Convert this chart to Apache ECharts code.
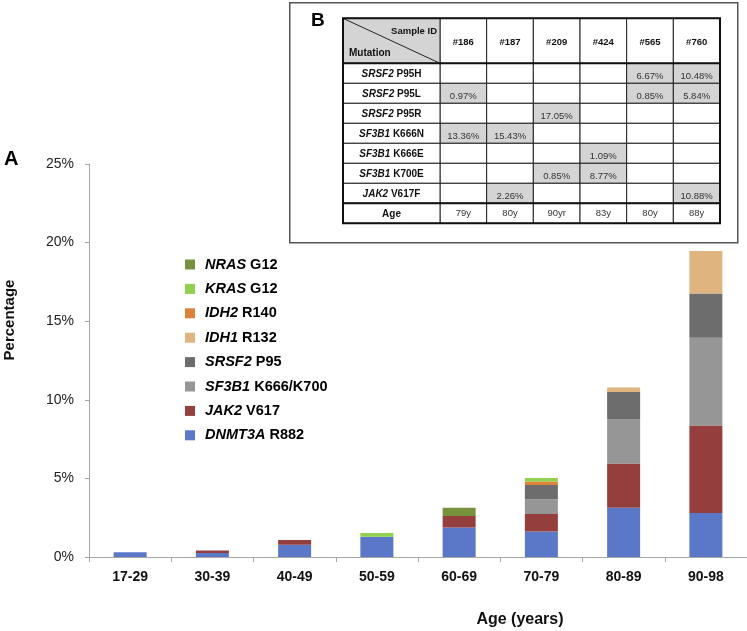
<!DOCTYPE html>
<html>
<head>
<meta charset="utf-8">
<script src="https://cdn.jsdelivr.net/npm/echarts@6/dist/echarts.min.js"></script>
<style>
html,body{margin:0;padding:0;background:#fff;}
#chart{width:747px;height:631px;}
</style>
</head>
<body>
<div id="chart"></div>
<script>
// ---------- Panel A data ----------
var ageGroups = ['17-29','30-39','40-49','50-59','60-69','70-79','80-89','90-98'];
var seriesNames = ['DNMT3A R882','JAK2 V617','SF3B1 K666/K700','SRSF2 P95','IDH1 R132','IDH2 R140','KRAS G12','NRAS G12'];
var dnmt3a = [0.30, 0.25, 0.78, 1.29, 1.87, 1.62, 3.14, 2.80];
var jak2   = [0,    0.17, 0.30, 0,    0.74, 1.12, 2.80, 5.56];
var sf3b1  = [0,    0,    0,    0,    0,    0.93, 2.80, 5.59];
var srsf2  = [0,    0,    0,    0,    0,    0.91, 1.76, 2.81];
var idh1   = [0,    0,    0,    0,    0,    0,    0.28, 2.71];
var idh2   = [0,    0,    0,    0,    0,    0.23, 0,    0];
var kras   = [0,    0,    0,    0.24, 0,    0.22, 0,    0];
var nras   = [0,    0,    0,    0,    0.53, 0,    0,    0];
var seriesValues = [dnmt3a, jak2, sf3b1, srsf2, idh1, idh2, kras, nras];
var seriesColors = ['#5B77C8','#943F3E','#969696','#6D6D6D','#E0B47E','#DB8339','#92D050','#76923C'];
var yTicks = [0, 5, 10, 15, 20, 25];

// ---------- Panel B data ----------
var sampleIds = ['#186','#187','#209','#424','#565','#760'];
var mutationRows = ['SRSF2 P95H','SRSF2 P95L','SRSF2 P95R','SF3B1 K666N','SF3B1 K666E','SF3B1 K700E','JAK2 V617F'];
var rowSRSF2_P95H = [null, null, null, null, '6.67%', '10.48%'];
var rowSRSF2_P95L = ['0.97%', null, null, null, '0.85%', '5.84%'];
var rowSRSF2_P95R = [null, null, '17.05%', null, null, null];
var rowSF3B1_K666N = ['13.36%', '15.43%', null, null, null, null];
var rowSF3B1_K666E = [null, null, null, '1.09%', null, null];
var rowSF3B1_K700E = [null, null, '0.85%', '8.77%', null, null];
var rowJAK2_V617F = [null, '2.26%', null, null, null, '10.88%'];
var ages = ['79y','80y','90yr','83y','80y','88y'];
var tableRows = [rowSRSF2_P95H, rowSRSF2_P95L, rowSRSF2_P95R, rowSF3B1_K666N, rowSF3B1_K666E, rowSF3B1_K700E, rowJAK2_V617F];

var FONT = '"Liberation Sans", Arial, sans-serif';

var chart = echarts.init(document.getElementById('chart'), null, {renderer: 'canvas'});

function geneLabel(name) {
  var i = name.indexOf(' ');
  return '{i|' + name.slice(0, i) + '} ' + name.slice(i + 1);
}

var barSeries = seriesNames.map(function (n, k) {
  return {
    name: n,
    type: 'bar',
    stack: 'total',
    xAxisIndex: 0, yAxisIndex: 0,
    barWidth: 33,
    itemStyle: {color: seriesColors[k]},
    data: seriesValues[k],
    silent: true
  };
});

// table cells
var tableCells = [];
var rowCats = mutationRows.concat(['Age']);
for (var r = 0; r < rowCats.length; r++) {
  for (var c = 0; c < sampleIds.length; c++) {
    tableCells.push([c, r]);
  }
}
function cellText(c, r) {
  if (r === mutationRows.length) return ages[c];
  return tableRows[r][c];
}

var LABEL_W = 97, HEADER_H = 45;
var tableSeries = {
  type: 'custom',
  xAxisIndex: 1, yAxisIndex: 1,
  clip: false,
  silent: true,
  data: tableCells,
  renderItem: function (params, api) {
    var c = api.value(0), r = api.value(1);
    var p = api.coord([c, r]);
    var sz = api.size([1, 1]);
    var w = sz[0], h = sz[1];
    var x0 = p[0] - w / 2, y0 = p[1] - h / 2;
    var txt = cellText(c, r);
    var isAge = r === mutationRows.length;
    var ch = [];
    ch.push({type: 'rect', shape: {x: x0, y: y0, width: w, height: h},
      style: {fill: (!isAge && txt) ? '#D4D4D4' : '#fff', stroke: '#222', lineWidth: 1}});
    if (txt) {
      ch.push({type: 'text', style: {x: x0 + w / 2, y: isAge ? y0 + h / 2 : y0 + h / 2 + 3.5, text: txt,
        align: 'center', verticalAlign: 'middle', font: '9.5px ' + FONT, fill: '#333'}});
    }
    if (c === 0) {
      ch.push({type: 'rect', shape: {x: x0 - LABEL_W, y: y0, width: LABEL_W, height: h},
        style: {fill: '#fff', stroke: '#222', lineWidth: 1}});
      var lab = rowCats[r];
      ch.push({type: 'text', style: {x: x0 - LABEL_W / 2, y: y0 + h / 2 + 1,
        text: isAge ? 'Age' : geneLabel(lab), align: 'center', verticalAlign: 'middle',
        font: 'bold 10px ' + FONT, fill: '#111',
        rich: {i: {fontStyle: 'italic', fontWeight: 'bold', fontSize: 10, fontFamily: FONT, fill: '#111'}}}});
    }
    if (r === 0) {
      ch.push({type: 'rect', shape: {x: x0, y: y0 - HEADER_H, width: w, height: HEADER_H},
        style: {fill: '#fff', stroke: '#222', lineWidth: 1}});
      ch.push({type: 'text', style: {x: x0 + w / 2, y: y0 - HEADER_H / 2 + 2, text: sampleIds[c],
        align: 'center', verticalAlign: 'middle', font: 'bold 9.5px ' + FONT, fill: '#111'}});
    }
    if (c === 0 && r === 0) {
      var cx = x0 - LABEL_W, cy = y0 - HEADER_H;
      ch.push({type: 'rect', shape: {x: cx, y: cy, width: LABEL_W, height: HEADER_H},
        style: {fill: '#D4D4D4', stroke: '#222', lineWidth: 1}});
      ch.push({type: 'line', shape: {x1: cx, y1: cy, x2: x0, y2: y0}, style: {stroke: '#222', lineWidth: 1}});
      ch.push({type: 'text', style: {x: x0 - 3, y: cy + 13, text: 'Sample ID', align: 'right',
        verticalAlign: 'middle', font: 'bold 9.5px ' + FONT, fill: '#111'}});
      ch.push({type: 'text', style: {x: cx + 6, y: cy + 35, text: 'Mutation', align: 'left',
        verticalAlign: 'middle', font: 'bold 10px ' + FONT, fill: '#111'}});
      // thick outer frame & separators
      var totW = LABEL_W + w * sampleIds.length, totH = HEADER_H + h * rowCats.length;
      ch.push({type: 'rect', shape: {x: cx, y: cy, width: totW, height: totH},
        style: {fill: null, stroke: '#111', lineWidth: 2}, z2: 10});
      ch.push({type: 'line', shape: {x1: cx, y1: y0, x2: cx + totW, y2: y0},
        style: {stroke: '#111', lineWidth: 2}, z2: 10});
      ch.push({type: 'line', shape: {x1: cx, y1: y0 + h * mutationRows.length, x2: cx + totW, y2: y0 + h * mutationRows.length},
        style: {stroke: '#111', lineWidth: 2}, z2: 10});
    }
    return {type: 'group', children: ch};
  }
};

var option = {
  animation: false,
  backgroundColor: '#fff',
  textStyle: {fontFamily: FONT},
  grid: [
    {left: 89, right: 0, top: 164, bottom: 74},
    {left: 440, top: 63.3, width: 280, height: 160}
  ],
  legend: {
    orient: 'vertical',
    left: 185, top: 256,
    padding: 0,
    icon: 'rect',
    itemWidth: 10, itemHeight: 10,
    itemGap: 7.4,
    selectedMode: false,
    data: seriesNames.slice().reverse(),
    formatter: function (n) { return geneLabel(n); },
    textStyle: {
      fontFamily: FONT, fontSize: 14.5, fontWeight: 'bold', color: '#000', lineHeight: 17,
      padding: [0, 0, 0, 5],
      rich: {i: {fontFamily: FONT, fontSize: 14.5, fontWeight: 'bold', fontStyle: 'italic', color: '#000', lineHeight: 17}}
    }
  },
  xAxis: [
    {
      type: 'category', gridIndex: 0, data: ageGroups,
      axisLine: {lineStyle: {color: '#A6A6A6', width: 1}},
      axisTick: {show: true, length: 5, lineStyle: {color: '#A6A6A6'}},
      axisLabel: {fontFamily: FONT, fontSize: 14, fontWeight: 'bold', color: '#111', margin: 13}
    },
    {type: 'category', gridIndex: 1, data: sampleIds, show: false}
  ],
  yAxis: [
    {
      type: 'value', gridIndex: 0, min: yTicks[0], max: yTicks[yTicks.length - 1], interval: 5,
      axisLine: {show: true, lineStyle: {color: '#A6A6A6', width: 1}},
      axisTick: {show: true, length: 4, lineStyle: {color: '#A6A6A6'}},
      splitLine: {show: false},
      axisLabel: {fontFamily: FONT, fontSize: 14, color: '#222', margin: 15, formatter: '{value}%'}
    },
    {type: 'category', gridIndex: 1, data: rowCats, inverse: true, show: false}
  ],
  graphic: [
    {type: 'rect', left: 289, top: 2, shape: {width: 448, height: 240}, z: -1,
      style: {fill: '#fff', stroke: '#555', lineWidth: 1.5}},
    {type: 'text', left: 311, top: 11, style: {text: 'B', font: 'bold 19px ' + FONT, fill: '#000'}},
    {type: 'text', left: 4, top: 149, style: {text: 'A', font: 'bold 20px ' + FONT, fill: '#000'}},
    {type: 'text', x: 520, y: 620, style: {text: 'Age (years)', font: 'bold 16px ' + FONT, fill: '#111',
      align: 'center', verticalAlign: 'middle'}},
    {type: 'text', x: 10, y: 320, rotation: Math.PI / 2, style: {text: 'Percentage', font: 'bold 15px ' + FONT, fill: '#111',
      align: 'center', verticalAlign: 'middle'}}
  ],
  series: barSeries.concat([tableSeries])
};
chart.setOption(option);
</script>
</body>
</html>
